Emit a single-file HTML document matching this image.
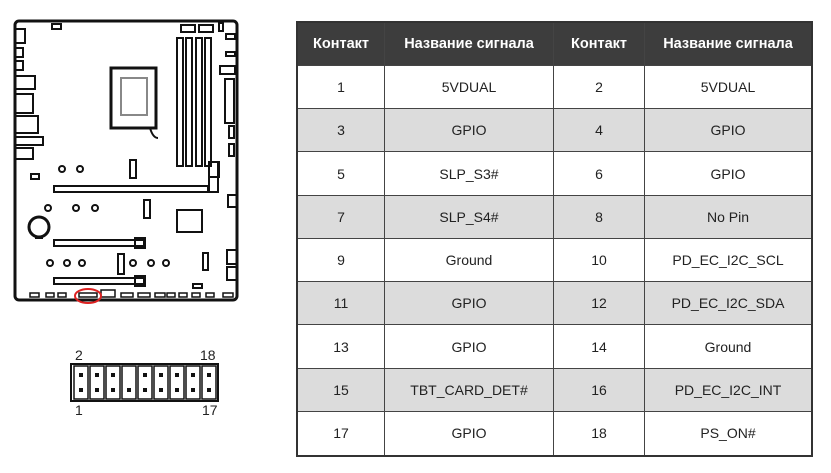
<!DOCTYPE html>
<html><head><meta charset="utf-8"><style>
body{margin:0;width:831px;height:473px;background:#fff;position:relative;font-family:"Liberation Sans","DejaVu Sans",sans-serif;overflow:hidden}
table{position:absolute;left:296px;top:21px;width:517px;height:436px;border-collapse:collapse;border:2px solid #333}
td,th{border:1.5px solid #444;text-align:center;font-size:14px;color:#222;padding:0}
th{background:#3d3d3d;color:#fff;font-weight:bold;font-size:14.5px;height:42px}
tr.g td{background:#dcdcdc}
</style></head><body>
<svg width="260" height="473" style="position:absolute;left:0;top:0" fill="none" stroke="#111" stroke-width="2">
<rect x="15" y="21" width="222" height="279" rx="4" stroke-width="3"/>
<rect x="52" y="24" width="9" height="5"/>
<rect x="15" y="29" width="10" height="14"/><rect x="15" y="48" width="8" height="9"/><rect x="15" y="61" width="8" height="9"/>
<rect x="15" y="76" width="20" height="13"/><rect x="15" y="94" width="18" height="19"/><rect x="15" y="116" width="23" height="17"/>
<rect x="15" y="137" width="28" height="8"/><rect x="15" y="148" width="18" height="11"/>
<rect x="181" y="25" width="14" height="7"/><rect x="199" y="25" width="14" height="7"/><rect x="219" y="23" width="4" height="8"/>
<rect x="226" y="34" width="9" height="5"/><rect x="226" y="52" width="9" height="4"/><rect x="220" y="66" width="15" height="8"/>
<rect x="225" y="79" width="9" height="44"/><rect x="229" y="126" width="5" height="12"/><rect x="229" y="144" width="5" height="12"/>
<rect x="177" y="38" width="6" height="128"/><rect x="186" y="38" width="6" height="128"/><rect x="196" y="38" width="6" height="128"/><rect x="205" y="38" width="6" height="128"/>
<rect x="111" y="68" width="45" height="60" stroke-width="3"/><rect x="121" y="78" width="26" height="37" stroke="#888"/>
<path d="M150 128 q3 10 8 10"/>
<rect x="209" y="162" width="10" height="15"/>
<circle cx="62" cy="169" r="3"/><circle cx="80" cy="169" r="3"/>
<rect x="31" y="174" width="8" height="5"/>
<rect x="130" y="160" width="6" height="18"/>
<rect x="54" y="186" width="154" height="6"/>
<rect x="209" y="162" width="9" height="30"/>
<rect x="144" y="200" width="6" height="18"/>
<circle cx="48" cy="208" r="3"/><circle cx="76" cy="208" r="3"/><circle cx="95" cy="208" r="3"/>
<circle cx="39" cy="227" r="10" stroke-width="3"/><path d="M35 238 h8"/>
<rect x="177" y="210" width="25" height="22"/>
<rect x="228" y="195" width="9" height="12"/>
<rect x="54" y="240" width="90" height="6"/><rect x="135" y="238" width="10" height="10"/>
<circle cx="50" cy="263" r="3"/><circle cx="67" cy="263" r="3"/><circle cx="82" cy="263" r="3"/>
<rect x="118" y="254" width="6" height="20"/>
<circle cx="133" cy="263" r="3"/><circle cx="151" cy="263" r="3"/><circle cx="166" cy="263" r="3"/>
<rect x="203" y="253" width="5" height="17"/>
<rect x="227" y="250" width="10" height="14"/><rect x="227" y="267" width="10" height="13"/>
<rect x="54" y="278" width="90" height="6"/><rect x="135" y="276" width="10" height="10"/>
<rect x="193" y="284" width="9" height="4"/>
<g stroke-width="1.5"><rect x="30" y="293" width="9" height="4"/><rect x="46" y="293" width="8" height="4"/><rect x="58" y="293" width="8" height="4"/>
<rect x="101" y="290" width="14" height="7"/><rect x="121" y="293" width="12" height="4"/><rect x="138" y="293" width="12" height="4"/>
<rect x="155" y="293" width="10" height="4"/><rect x="167" y="293" width="8" height="4"/><rect x="179" y="293" width="8" height="4"/>
<rect x="192" y="293" width="8" height="4"/><rect x="206" y="293" width="8" height="4"/><rect x="223" y="293" width="10" height="4"/>
<rect x="79" y="293" width="18" height="4"/></g>
<ellipse cx="88" cy="296" rx="13" ry="7" stroke="#d22" stroke-width="2"/>
<rect x="71" y="364" width="147" height="37" stroke-width="2"/>
<g stroke-width="1.5">
<rect x="74" y="366" width="14" height="33"/><rect x="90" y="366" width="14" height="33"/><rect x="106" y="366" width="14" height="33"/><rect x="122" y="366" width="14" height="33"/><rect x="138" y="366" width="14" height="33"/><rect x="154" y="366" width="14" height="33"/><rect x="170" y="366" width="14" height="33"/><rect x="186" y="366" width="14" height="33"/><rect x="202" y="366" width="14" height="33"/>
</g>
<g fill="#111" stroke="none">
<rect x="79" y="373" width="4" height="4"/><rect x="95" y="373" width="4" height="4"/><rect x="111" y="373" width="4" height="4"/><rect x="143" y="373" width="4" height="4"/><rect x="159" y="373" width="4" height="4"/><rect x="175" y="373" width="4" height="4"/><rect x="191" y="373" width="4" height="4"/><rect x="207" y="373" width="4" height="4"/>
<rect x="79" y="388" width="4" height="4"/><rect x="95" y="388" width="4" height="4"/><rect x="111" y="388" width="4" height="4"/><rect x="127" y="388" width="4" height="4"/><rect x="143" y="388" width="4" height="4"/><rect x="159" y="388" width="4" height="4"/><rect x="175" y="388" width="4" height="4"/><rect x="191" y="388" width="4" height="4"/><rect x="207" y="388" width="4" height="4"/>
</g>
<g fill="#222" stroke="none" font-size="14" font-family="Liberation Sans, sans-serif">
<text x="75" y="360">2</text><text x="200" y="360">18</text><text x="75" y="415">1</text><text x="202" y="415">17</text>
</g>
</svg>
<table>
<tr><th style="width:86px">Контакт</th><th style="width:168px">Название сигнала</th><th style="width:90px">Контакт</th><th>Название сигнала</th></tr>
<tr><td>1</td><td>5VDUAL</td><td>2</td><td>5VDUAL</td></tr>
<tr class="g"><td>3</td><td>GPIO</td><td>4</td><td>GPIO</td></tr>
<tr><td>5</td><td>SLP_S3#</td><td>6</td><td>GPIO</td></tr>
<tr class="g"><td>7</td><td>SLP_S4#</td><td>8</td><td>No Pin</td></tr>
<tr><td>9</td><td>Ground</td><td>10</td><td>PD_EC_I2C_SCL</td></tr>
<tr class="g"><td>11</td><td>GPIO</td><td>12</td><td>PD_EC_I2C_SDA</td></tr>
<tr><td>13</td><td>GPIO</td><td>14</td><td>Ground</td></tr>
<tr class="g"><td>15</td><td>TBT_CARD_DET#</td><td>16</td><td>PD_EC_I2C_INT</td></tr>
<tr><td>17</td><td>GPIO</td><td>18</td><td>PS_ON#</td></tr>
</table>
</body></html>
